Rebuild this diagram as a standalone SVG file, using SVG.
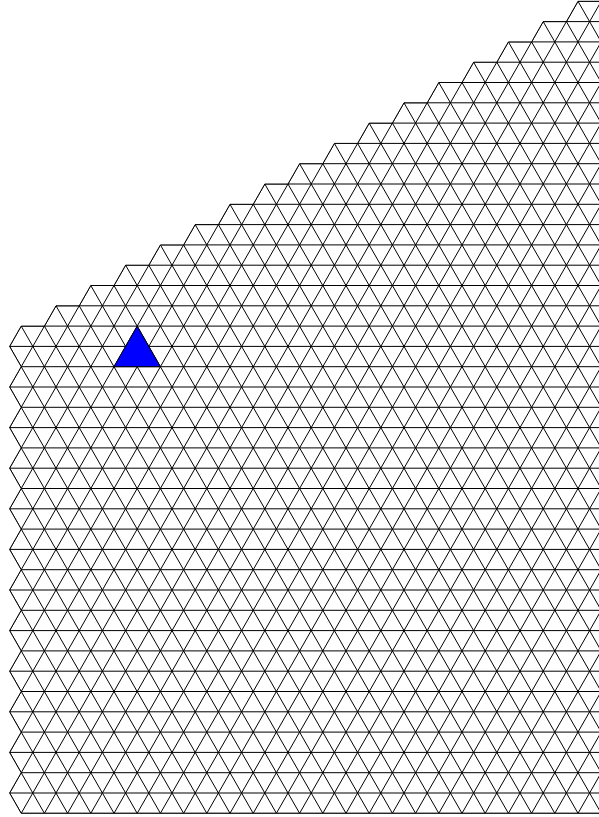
<svg xmlns="http://www.w3.org/2000/svg" width="599" height="817" viewBox="0 0 599 817">
<style>
.g{fill:none;stroke:#000;stroke-width:1}
.b{fill:#0000ff;stroke:#000;stroke-width:1}
</style>
<defs>
<clipPath id="reg">
<polygon id="regpoly" points="578,1.3 610,1.3 610,813.3 21.2,813.3 9.6,793 21.2,772.7 9.6,752.4 21.2,732.1 9.6,711.8 21.2,691.5 9.6,671.2 21.2,650.9 9.6,630.6 21.2,610.3 9.6,590 21.2,569.7 9.6,549.4 21.2,529.1 9.6,508.8 21.2,488.5 9.6,468.2 21.2,447.9 9.6,427.6 21.2,407.3 9.6,387 21.2,366.7 9.6,346.4 21.2,326.1 44.4,326.1 56,305.8 79.2,305.8 90.8,285.5 114,285.5 125.6,265.2 148.8,265.2 160.4,244.9 183.6,244.9 195.2,224.6 218.4,224.6 230,204.3 253.2,204.3 264.8,184 288,184 299.6,163.7 322.8,163.7 334.4,143.4 357.6,143.4 369.2,123.1 392.4,123.1 404,102.8 427.2,102.8 438.8,82.5 462,82.5 473.6,62.2 496.8,62.2 508.4,41.9 531.6,41.9 543.2,21.6 566.4,21.6"/>
</clipPath>
</defs>
<rect width="599" height="817" fill="#fff"/>
<g id="grid" clip-path="url(#reg)">
<path id="horizontal" class="g" d="M0,1.3H610M0,21.6H610M0,41.9H610M0,62.2H610M0,82.5H610M0,102.8H610M0,123.1H610M0,143.4H610M0,163.7H610M0,184H610M0,204.3H610M0,224.6H610M0,244.9H610M0,265.2H610M0,285.5H610M0,305.8H610M0,326.1H610M0,346.4H610M0,366.7H610M0,387H610M0,407.3H610M0,427.6H610M0,447.9H610M0,468.2H610M0,488.5H610M0,508.8H610M0,529.1H610M0,549.4H610M0,569.7H610M0,590H610M0,610.3H610M0,630.6H610M0,650.9H610M0,671.2H610M0,691.5H610M0,711.8H610M0,732.1H610M0,752.4H610M0,772.7H610M0,793H610M0,813.3H610"/>
<path id="rising" class="g" d="M-442.8,813.3l464,-812M-419.6,813.3l464,-812M-396.4,813.3l464,-812M-373.2,813.3l464,-812M-350,813.3l464,-812M-326.8,813.3l464,-812M-303.6,813.3l464,-812M-280.4,813.3l464,-812M-257.2,813.3l464,-812M-234,813.3l464,-812M-210.8,813.3l464,-812M-187.6,813.3l464,-812M-164.4,813.3l464,-812M-141.2,813.3l464,-812M-118,813.3l464,-812M-94.8,813.3l464,-812M-71.6,813.3l464,-812M-48.4,813.3l464,-812M-25.2,813.3l464,-812M-2,813.3l464,-812M21.2,813.3l464,-812M44.4,813.3l464,-812M67.6,813.3l464,-812M90.8,813.3l464,-812M114,813.3l464,-812M137.2,813.3l464,-812M160.4,813.3l464,-812M183.6,813.3l464,-812M206.8,813.3l464,-812M230,813.3l464,-812M253.2,813.3l464,-812M276.4,813.3l464,-812M299.6,813.3l464,-812M322.8,813.3l464,-812M346,813.3l464,-812M369.2,813.3l464,-812M392.4,813.3l464,-812M415.6,813.3l464,-812M438.8,813.3l464,-812M462,813.3l464,-812M485.2,813.3l464,-812M508.4,813.3l464,-812M531.6,813.3l464,-812M554.8,813.3l464,-812M578,813.3l464,-812"/>
<path id="falling" class="g" d="M21.2,813.3l-464,-812M44.4,813.3l-464,-812M67.6,813.3l-464,-812M90.8,813.3l-464,-812M114,813.3l-464,-812M137.2,813.3l-464,-812M160.4,813.3l-464,-812M183.6,813.3l-464,-812M206.8,813.3l-464,-812M230,813.3l-464,-812M253.2,813.3l-464,-812M276.4,813.3l-464,-812M299.6,813.3l-464,-812M322.8,813.3l-464,-812M346,813.3l-464,-812M369.2,813.3l-464,-812M392.4,813.3l-464,-812M415.6,813.3l-464,-812M438.8,813.3l-464,-812M462,813.3l-464,-812M485.2,813.3l-464,-812M508.4,813.3l-464,-812M531.6,813.3l-464,-812M554.8,813.3l-464,-812M578,813.3l-464,-812M601.2,813.3l-464,-812M624.4,813.3l-464,-812M647.6,813.3l-464,-812M670.8,813.3l-464,-812M694,813.3l-464,-812M717.2,813.3l-464,-812M740.4,813.3l-464,-812M763.6,813.3l-464,-812M786.8,813.3l-464,-812M810,813.3l-464,-812M833.2,813.3l-464,-812M856.4,813.3l-464,-812M879.6,813.3l-464,-812M902.8,813.3l-464,-812M926,813.3l-464,-812M949.2,813.3l-464,-812M972.4,813.3l-464,-812M995.6,813.3l-464,-812M1018.8,813.3l-464,-812M1042,813.3l-464,-812"/>
</g>
<use id="outline" href="#regpoly" class="g"/>
<polygon id="highlight" class="b" points="137.2,326.1 114,366.7 160.4,366.7"/>
</svg>
